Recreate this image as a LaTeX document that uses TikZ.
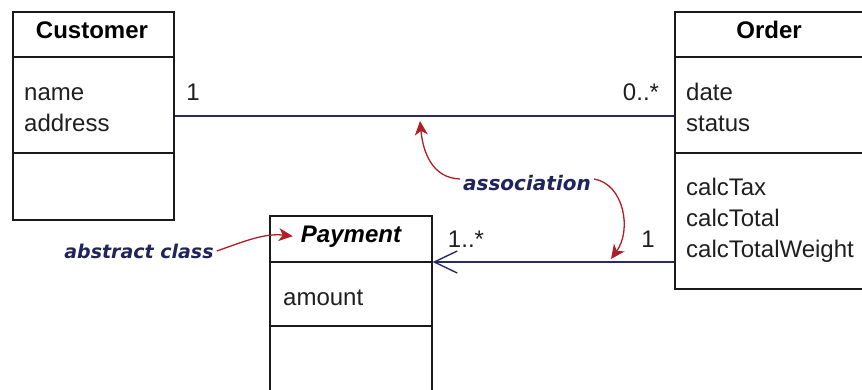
\documentclass[tikz,border=0pt]{standalone}
\usepackage{fontspec}
\setmainfont{Liberation Sans}
\newfontfamily\notefont{DejaVu Sans}
\usetikzlibrary{arrows.meta}
\definecolor{assoc}{HTML}{2A2A6A}
\definecolor{notetext}{HTML}{20245C}
\definecolor{notered}{HTML}{B01E28}
\definecolor{boxline}{HTML}{1A1A1A}
\begin{document}
\begin{tikzpicture}[x=1pt,y=-1pt,
  classbox/.style={draw=boxline, line width=1.6pt, fill=white, inner sep=0pt, anchor=north west},
  divider/.style={draw=boxline, line width=1.6pt},
  member/.style={anchor=base west, inner sep=0pt, font=\fontsize{24}{24}\selectfont, text=black!88},
  classtitle/.style={anchor=base, inner sep=0pt, font=\fontsize{24}{24}\selectfont\bfseries},
  mult/.style={anchor=base, inner sep=0pt, font=\fontsize{24}{24}\selectfont, text=black!88},
  note/.style={inner sep=0pt, text=notetext, font=\notefont\fontsize{20}{20}\selectfont\bfseries\itshape},
  callout/.style={draw=notered, line width=1.3pt, -{Stealth[length=14pt,width=13pt,inset=4pt]}},
  assocline/.style={draw=assoc, line width=1.4pt}]
\useasboundingbox (0,0) rectangle (862,389);

% class boxes
\node[classbox, minimum width=161pt, minimum height=208pt] (customer) at (12,11) {};
\node[classbox, minimum width=190pt, minimum height=277pt] (order) at (674,11) {};
\node[classbox, minimum width=162pt, minimum height=200pt] (payment) at (269,215) {};

% compartment dividers
\path (0,57) coordinate (cust-top) (0,153) coordinate (cust-bot);
\draw[divider] (cust-top -| customer.west) -- (cust-top -| customer.east);
\draw[divider] (cust-bot -| customer.west) -- (cust-bot -| customer.east);
\draw[divider] (cust-top -| order.west) -- (cust-top -| order.east);
\draw[divider] (cust-bot -| order.west) -- (cust-bot -| order.east);
\path (0,262) coordinate (pay-top) (0,326) coordinate (pay-bot);
\draw[divider] (pay-top -| payment.west) -- (pay-top -| payment.east);
\draw[divider] (pay-bot -| payment.west) -- (pay-bot -| payment.east);

% class names
\node[classtitle] (customer-title) at (92,38) {Customer};
\node[classtitle] (order-title) at (769,38) {Order};
\node[classtitle, font=\fontsize{24}{24}\selectfont\bfseries\itshape] (payment-title) at (351,242) {Payment};

% members
\node[member] (cust-a1) at (24,100) {name};
\node[member] (cust-a2) at (24,131) {address};
\node[member] (order-a1) at (686,100) {date};
\node[member] (order-a2) at (686,131) {status};
\node[member] (order-m1) at (686,195) {calcTax};
\node[member] (order-m2) at (686,226) {calcTotal};
\node[member] (order-m3) at (686,257) {calcTotalWeight};
\node[member] (pay-a1) at (283,305) {amount};

% associations
\draw[assocline] (customer.east) -- (customer.east -| order.west);
\draw[assocline, -{Straight Barb[length=23pt,width=22pt]}] (pay-top -| order.west) -- (pay-top -| payment.east);

% multiplicities
\node[mult] (m-cust) at (193,100) {1};
\node[mult] (m-order) at (641,100) {0..*};
\node[mult] (m-pay) at (466,247) {1..*};
\node[mult] (m-order2) at (648,247) {1};

% annotations
\node[note] (assoc-note) at (527,183) {association};
\node[note, font=\notefont\fontsize{19}{19}\selectfont\bfseries\itshape] (abstract-note) at (139,251) {abstract class};
\coordinate (assoc-upper) at (420,121);
\coordinate (assoc-lower) at (611,259);
\draw[callout] ([xshift=-3pt,yshift=4pt]assoc-note.west) .. controls (432,178) and (423,152) .. (assoc-upper);
\draw[callout] ([xshift=3pt,yshift=4pt]assoc-note.east) .. controls (624,184) and (632,230) .. (assoc-lower);
\draw[callout] ([xshift=3pt]abstract-note.east) .. controls (245,241) and (265,233) .. ([xshift=-8pt]payment-title.west);
\end{tikzpicture}
\end{document}
